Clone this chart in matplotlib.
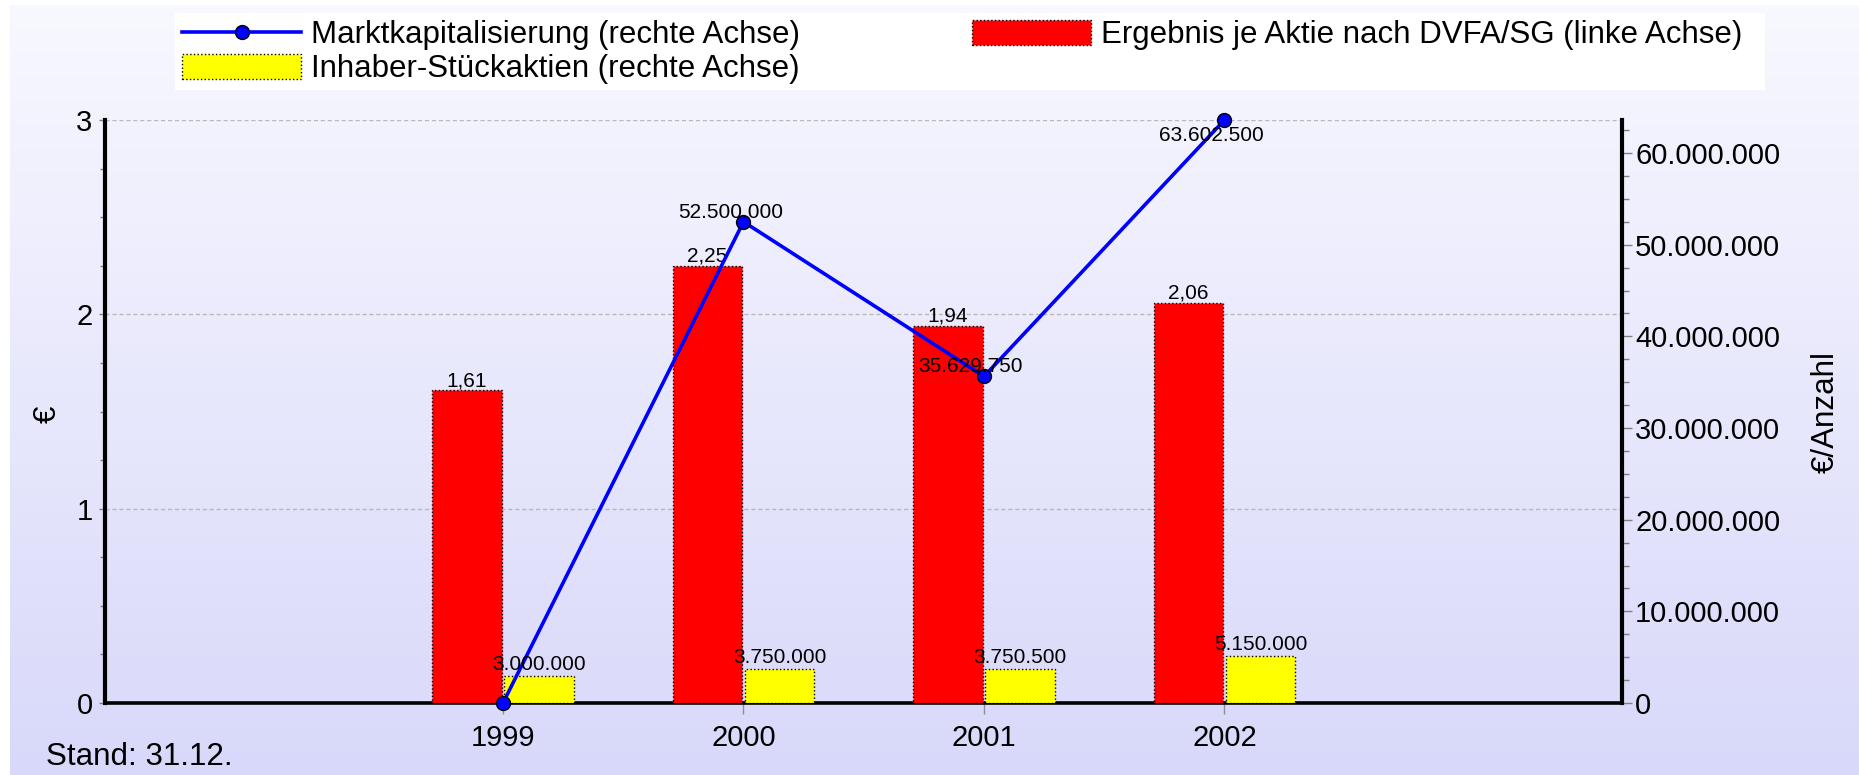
import numpy as np
import matplotlib
matplotlib.use("Agg")
import matplotlib.pyplot as plt
from matplotlib.ticker import FuncFormatter, MultipleLocator
from matplotlib.patches import Patch, Rectangle
from matplotlib.lines import Line2D

# ---- data ----
years = ["1999", "2000", "2001", "2002"]
ergebnis = [1.61, 2.25, 1.94, 2.06]            # Ergebnis je Aktie (linke Achse)
aktien = [3000000, 3750000, 3750500, 5150000]   # Inhaber-Stückaktien (rechte Achse)
marktkap = [0, 52500000, 35629750, 63602500]    # Marktkapitalisierung (rechte Achse)
left_ticks_max = 3

plt.rcParams['font.family'] = ['Liberation Sans', 'DejaVu Sans']


def de_int(v, pos=None):
    return f"{int(round(v)):,}".replace(",", ".")


def de_2(v):
    return f"{v:.2f}".replace(".", ",")


W, H = 1859, 775
fig = plt.figure(figsize=(W / 100, H / 100), dpi=100)
fig.patch.set_facecolor('white')

# background gradient panel
bg = fig.add_axes([10 / W, 0, 1 - 10 / W, 1 - 5 / H], zorder=-10)
g = np.linspace(0, 1, 256)[:, None, None]
top = np.array([248, 248, 255]) / 255
bot = np.array([216, 216, 250]) / 255
img = top[None, None, :] * (1 - g) + bot[None, None, :] * g
img = np.repeat(img, 2, axis=1)
bg.imshow(img, aspect='auto', extent=[0, 1, 0, 1])
bg.axis('off')

# legend background box
fig.patches.append(Rectangle((175 / W, 1 - 90 / H), (1765 - 175) / W, 77 / H,
                             facecolor='white', edgecolor='none',
                             transform=fig.transFigure, zorder=0))

ax = fig.add_axes([105 / W, 1 - 703 / H, (1622 - 105) / W, (703 - 120) / H])
ax.set_facecolor('none')
ax2 = ax.twinx()

x = np.arange(len(years))
w = 0.29
gap = 0.005
ax.bar(x - w / 2 - gap, ergebnis, w, color='#ff0000', edgecolor='black',
       linestyle=':', linewidth=1, zorder=3)
ax2.bar(x + w / 2 + gap, aktien, w, color='#ffff00', edgecolor='black',
        linestyle=':', linewidth=1, zorder=2)
ax2.plot(x, marktkap, color='#0000ff', lw=2.6, marker='o', ms=10,
         mfc='#0000ff', mec='black', mew=1, zorder=5, clip_on=False)

ax.set_xlim(-1.655, 4.653)
ax.set_ylim(0, left_ticks_max)
ax2.set_ylim(0, max(marktkap))

# grid
ax.set_axisbelow(True)
ax.yaxis.grid(True, which='major', color='#b8b8b8', linestyle=(0, (3, 2)), lw=1)

# spines
for a in (ax, ax2):
    a.spines['top'].set_visible(False)
ax2.spines['left'].set_visible(False)
ax2.spines['bottom'].set_visible(False)
ax.spines['right'].set_visible(False)
ax.spines['left'].set_linewidth(3.0)
ax.spines['bottom'].set_linewidth(2.6)
ax2.spines['right'].set_linewidth(3.0)

# ticks
ax.yaxis.set_major_locator(MultipleLocator(1))
ax.yaxis.set_minor_locator(MultipleLocator(0.25))
ax.tick_params(axis='y', which='major', length=4.5, width=1, color='#808080',
               labelsize=21, pad=4.5)
ax.tick_params(axis='y', which='minor', length=3.5, width=1, color='#808080')
ax2.yaxis.set_major_locator(MultipleLocator(10000000))
ax2.yaxis.set_minor_locator(MultipleLocator(2500000))
ax2.yaxis.set_major_formatter(FuncFormatter(de_int))
ax2.tick_params(axis='y', which='major', length=7, width=1, color='#808080',
                labelsize=21, pad=2.5)
ax2.tick_params(axis='y', which='minor', length=5, width=1, color='#808080')
ax.set_xticks(x, years)
ax.tick_params(axis='x', length=8, width=1, color='#909090', labelsize=21, pad=7)

# value labels
lab_fs = 15
for xi, v in zip(x, ergebnis):
    ax.annotate(de_2(v), (xi - w / 2 - gap, v), xytext=(0, 4),
                textcoords='offset pixels', ha='center', va='baseline',
                fontsize=lab_fs, zorder=6)
for xi, v in zip(x, aktien):
    ax2.annotate(de_int(v), (xi + w / 2 + gap, v), xytext=(0, 6),
                 textcoords='offset pixels', ha='center', va='baseline',
                 fontsize=lab_fs, zorder=6)
ymax2 = ax2.get_ylim()[1]
for xi, v in zip(x, marktkap):
    if v <= 0:
        continue
    dy = -21 if v >= 0.97 * ymax2 else 4
    ax2.annotate(de_int(v), (xi, v), xytext=(-13, dy),
                 textcoords='offset pixels', ha='center', va='baseline',
                 fontsize=lab_fs, zorder=7)

# legend
handles = [
    Line2D([], [], color='#0000ff', lw=2.6, marker='o', ms=10, mfc='#0000ff',
           mec='black', mew=1),
    Patch(facecolor='#ffff00', edgecolor='black', linestyle=':', linewidth=1),
    Patch(facecolor='#ff0000', edgecolor='black', linestyle=':', linewidth=1),
]
labels = ['Marktkapitalisierung (rechte Achse)',
          'Inhaber-Stückaktien (rechte Achse)',
          'Ergebnis je Aktie nach DVFA/SG (linke Achse)']
leg = fig.legend(handles, labels, ncol=2, loc='upper left',
                 bbox_to_anchor=(175 / W, 1 - 13 / H), fontsize=22.5,
                 frameon=False, handlelength=3.8,
                 handleheight=0.85, handletextpad=0.32, columnspacing=5.5,
                 borderpad=0.23, labelspacing=0.12, borderaxespad=0)

# texts
fig.text(46 / W, 10 / H, 'Stand: 31.12.', fontsize=22.6, ha='left', va='baseline')
fig.text(48 / W, 1 - 414 / H, '€', rotation=90, fontsize=22.6, ha='center', va='center')
fig.text(1826 / W, 1 - 412 / H, '€/Anzahl', rotation=90, fontsize=22.6,
         ha='center', va='center')

fig.savefig('out.png', dpi=100)
